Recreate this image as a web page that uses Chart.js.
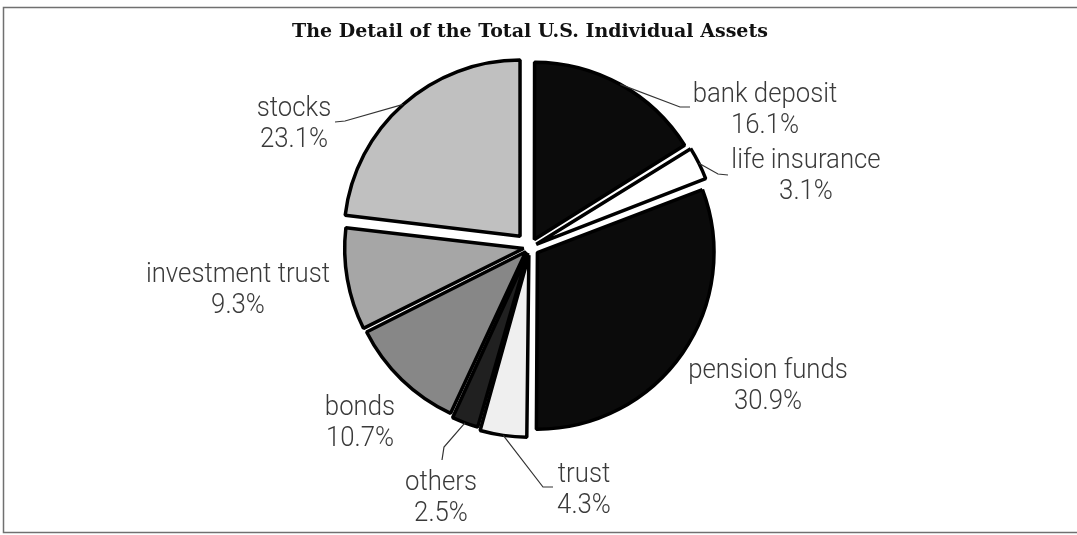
<!DOCTYPE html>
<html>
<head>
<meta charset="utf-8">
<title>Individual Assets</title>
<script src="https://cdn.jsdelivr.net/npm/chart.js@4"></script>
<style>
    html, body { margin: 0; padding: 0; background: #fff; }
    .chart-wrap { width: 1077px; height: 535px; position: relative; }
</style>
</head>
<body>
<div class="chart-wrap">
    <canvas id="assetsChart"></canvas>
</div>
<script>
// Asset categories, clockwise from 12 o'clock
const categories = ['bank deposit', 'life insurance', 'pension funds', 'trust', 'others', 'bonds', 'investment trust', 'stocks'];
// Share of total assets, percent
const shares = [16.1, 3.1, 30.9, 4.3, 2.5, 10.7, 9.3, 23.1];

// Slice fills (grayscale) and how far each slice is pulled out
const fills = ['#0b0b0b', '#ffffff', '#0b0b0b', '#efefef', '#202020', '#878787', '#a6a6a6', '#c0c0c0'];
const explode = [36, 28, 36, 32, 24, 24, 26, 60];

// Where each label sits: x = text centre, y = first baseline;
// leader = extra points after the slice edge (null -> no leader line)
const labelSpots = [
    { x: 765, y: 102, leader: [[680, 107], [690, 107]] },
    { x: 806, y: 168, leader: [[718, 174], [728, 175]] },
    { x: 768, y: 378, leader: null },
    { x: 584, y: 482, leader: [[543, 487], [553, 487]] },
    { x: 441, y: 490, leader: [[444, 447], [442, 460]] },
    { x: 360, y: 415, leader: null },
    { x: 238, y: 282, leader: null },
    { x: 294, y: 116, leader: [[345, 121], [335, 122]] }
];

const LABEL_FONT = '300 28px Roboto, "DejaVu Sans", sans-serif';
const LINE_GAP = 31;

// Thin grey frame round the whole figure
const framePlugin = {
    id: 'frame',
    beforeDraw(chart) {
        const ctx = chart.ctx;
        ctx.save();
        ctx.fillStyle = '#fff';
        ctx.fillRect(0, 0, chart.width, chart.height);
        ctx.strokeStyle = '#707070';
        ctx.lineWidth = 1.5;
        ctx.strokeRect(3.5, 7.5, chart.width + 10, chart.height - 10);
        ctx.restore();
    }
};

// Category names, percentages and leader lines
const sliceLabels = {
    id: 'sliceLabels',
    afterDatasetsDraw(chart) {
        const ctx = chart.ctx;
        const arcs = chart.getDatasetMeta(0).data;
        ctx.save();
        arcs.forEach((arc, i) => {
            const spot = labelSpots[i];
            if (spot.leader) {
                const mid = (arc.startAngle + arc.endAngle) / 2;
                const off = (arc.options.offset || 0) / 4;
                const fix = 1 - Math.sin(Math.min(Math.PI, arc.endAngle - arc.startAngle));
                const r = arc.outerRadius + off * fix + off;
                ctx.beginPath();
                ctx.moveTo(arc.x + Math.cos(mid) * r, arc.y + Math.sin(mid) * r);
                spot.leader.forEach(p => ctx.lineTo(p[0], p[1]));
                ctx.strokeStyle = '#333';
                ctx.lineWidth = 1.2;
                ctx.stroke();
            }
            const lines = [categories[i], shares[i].toFixed(1) + '%'];
            ctx.font = LABEL_FONT;
            ctx.fillStyle = '#3a3a3a';
            ctx.textAlign = 'center';
            ctx.textBaseline = 'alphabetic';
            lines.forEach((txt, k) => {
                ctx.save();
                ctx.translate(spot.x, spot.y + k * LINE_GAP);
                ctx.scale(0.92, 1);
                ctx.fillText(txt, 0, 0);
                ctx.restore();
            });
        });
        ctx.restore();
    }
};

const ctx = document.getElementById('assetsChart').getContext('2d');
new Chart(ctx, {
    type: 'pie',
    data: {
        labels: categories,
        datasets: [{
            data: shares,
            backgroundColor: fills,
            borderColor: '#000',
            borderWidth: 3.5,
            offset: explode,
            hoverOffset: 0
        }]
    },
    options: {
        responsive: true,
        maintainAspectRatio: false,
        animation: false,
        radius: 176,
        layout: {
            padding: { left: 0, right: 17, top: 0, bottom: 94 }
        },
        plugins: {
            legend: { display: false },
            tooltip: { enabled: false },
            title: {
                display: true,
                text: 'The Detail of the Total U.S. Individual Assets',
                color: '#111',
                font: { family: '"DejaVu Serif", serif', weight: 'bold', size: 19 },
                padding: { top: 21, bottom: 10 }
            }
        }
    },
    plugins: [framePlugin, sliceLabels]
});
</script>
</body>
</html>
